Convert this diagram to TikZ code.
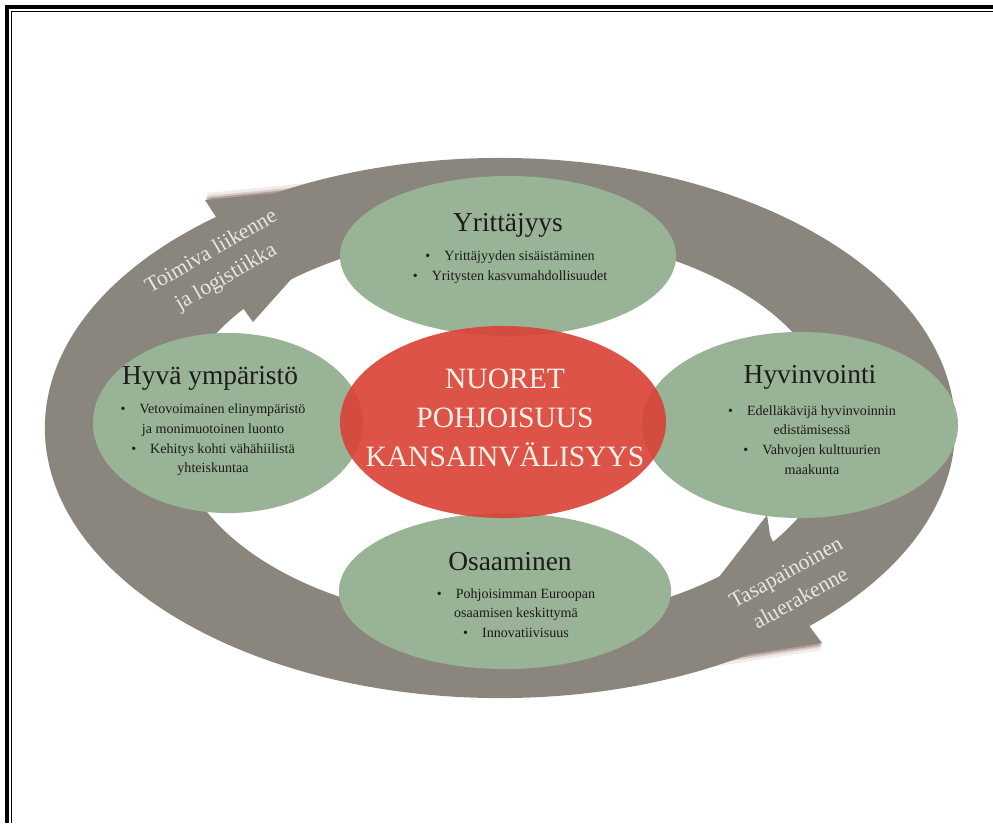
\documentclass[tikz,border=0pt]{standalone}
\usepackage{fontspec}
\setmainfont{Liberation Serif}
\usetikzlibrary{shapes.geometric}
\definecolor{ringgrey}{RGB}{139,134,125}
\definecolor{leafgreen}{RGB}{152,179,149}
\definecolor{corered}{RGB}{218,68,56}
\definecolor{inkdark}{RGB}{28,28,26}
\definecolor{paletext}{RGB}{234,230,222}
\definecolor{creamtext}{RGB}{252,242,232}
\definecolor{shadowbrown}{RGB}{120,72,58}
\tikzset{
  theme/.style={ellipse, fill=leafgreen, inner sep=0pt},
  core/.style={ellipse, fill=corered, fill opacity=.92, inner sep=0pt},
  heading/.style={text=inkdark, font=\fontsize{19.5}{22}\selectfont},
  points/.style={text=inkdark, align=center, font=\fontsize{10}{14}\selectfont},
  coretext/.style={text=creamtext, align=center, font=\fontsize{21}{28}\selectfont},
  arrowtext/.style={text=paletext, align=center, font=\fontsize{15.5}{21}\selectfont},
}

\begin{document}
\begin{tikzpicture}[x=0.025cm, y=-0.025cm]
        \useasboundingbox (0,0) rectangle (993,823);
        % frame
        \draw[line width=2.2pt] (7,823) -- (7,7) -- (993,7);
        \draw[line width=.7pt] (11.5,823) -- (11.5,11.5) -- (993,11.5);
        % soft shadows of the two arrow heads
        \foreach \d/\o in {2/.35,4/.2,7/.1} {
          \fill[shadowbrown, opacity=\o, shift={(1,-\d)}] (377,183) -- (205,200) -- (216,217) -- (243,308) -- (253,322) -- cycle;
          \fill[shadowbrown, opacity=\o, shift={(0,\d)}] (647,670) -- (767,515) -- (770,535) -- (810,627) -- (822,643) -- cycle;
        }
        % ring
        \fill[ringgrey, even odd rule] (500,428) ellipse [x radius=11.375cm, y radius=6.75cm]
              (505,428) ellipse [x radius=8.25cm, y radius=4.875cm];
        \fill[ringgrey] (377,183) -- (205,200) -- (216,217) -- (243,308) -- (253,322) -- cycle;
        \fill[ringgrey] (647,670) -- (767,515) -- (770,535) -- (810,627) -- (822,643) -- cycle;
        \node[arrowtext, rotate=30] (ring-a) at (219,265) {Toimiva liikenne\\ ja logistiikka};
        \node[arrowtext, rotate=29] (ring-b) at (793,585) {Tasapainoinen\\ aluerakenne};
        % the four themes
        \node[theme, minimum width=8.4cm, minimum height=4cm] (yrit) at (508,256) {};
        \node[theme, minimum width=6.75cm, minimum height=4.5cm] (hyva) at (228,423) {};
        \node[theme, minimum width=7.9cm, minimum height=4.65cm] (hyvin) at (800,425) {};
        \node[theme, minimum width=8.3cm, minimum height=3.9cm] (osaa) at (505,591) {};
        \node[core, minimum width=8.15cm, minimum height=4.8cm] (core) at (503,422) {};
        \node[heading] (yrit-t) at (508,225) {Yrittäjyys};
        \node[points] (yrit-p) at (510,267) {\textbullet\quad Yrittäjyyden sisäistäminen\\
            \textbullet\quad Yritysten kasvumahdollisuudet};
        \node[heading] (hyva-t) at (210,378) {Hyvä ympäristö};
        \node[points] (hyva-p) at (213,440) {\textbullet\quad Vetovoimainen elinympäristö\\
            ja monimuotoinen luonto\\ \textbullet\quad Kehitys kohti vähähiilistä\\ yhteiskuntaa};
        \node[heading] (hyvin-t) at (810,377) {Hyvinvointi};
        \node[points] (hyvin-p) at (812,440) {\textbullet\quad Edelläkävijä hyvinvoinnin\\
            edistämisessä\\ \textbullet\quad Vahvojen kulttuurien\\ maakunta};
        \node[heading] (osaa-t) at (510,562) {Osaaminen};
        \node[points] (osaa-p) at (516,613) {\textbullet\quad Pohjoisimman Euroopan\\
            osaamisen keskittymä\\ \textbullet\quad Innovatiivisuus};
        \node[coretext] (core-t) at (505,418) {NUORET\\ POHJOISUUS\\ KANSAINVÄLISYYS};
\end{tikzpicture}
\end{document}
